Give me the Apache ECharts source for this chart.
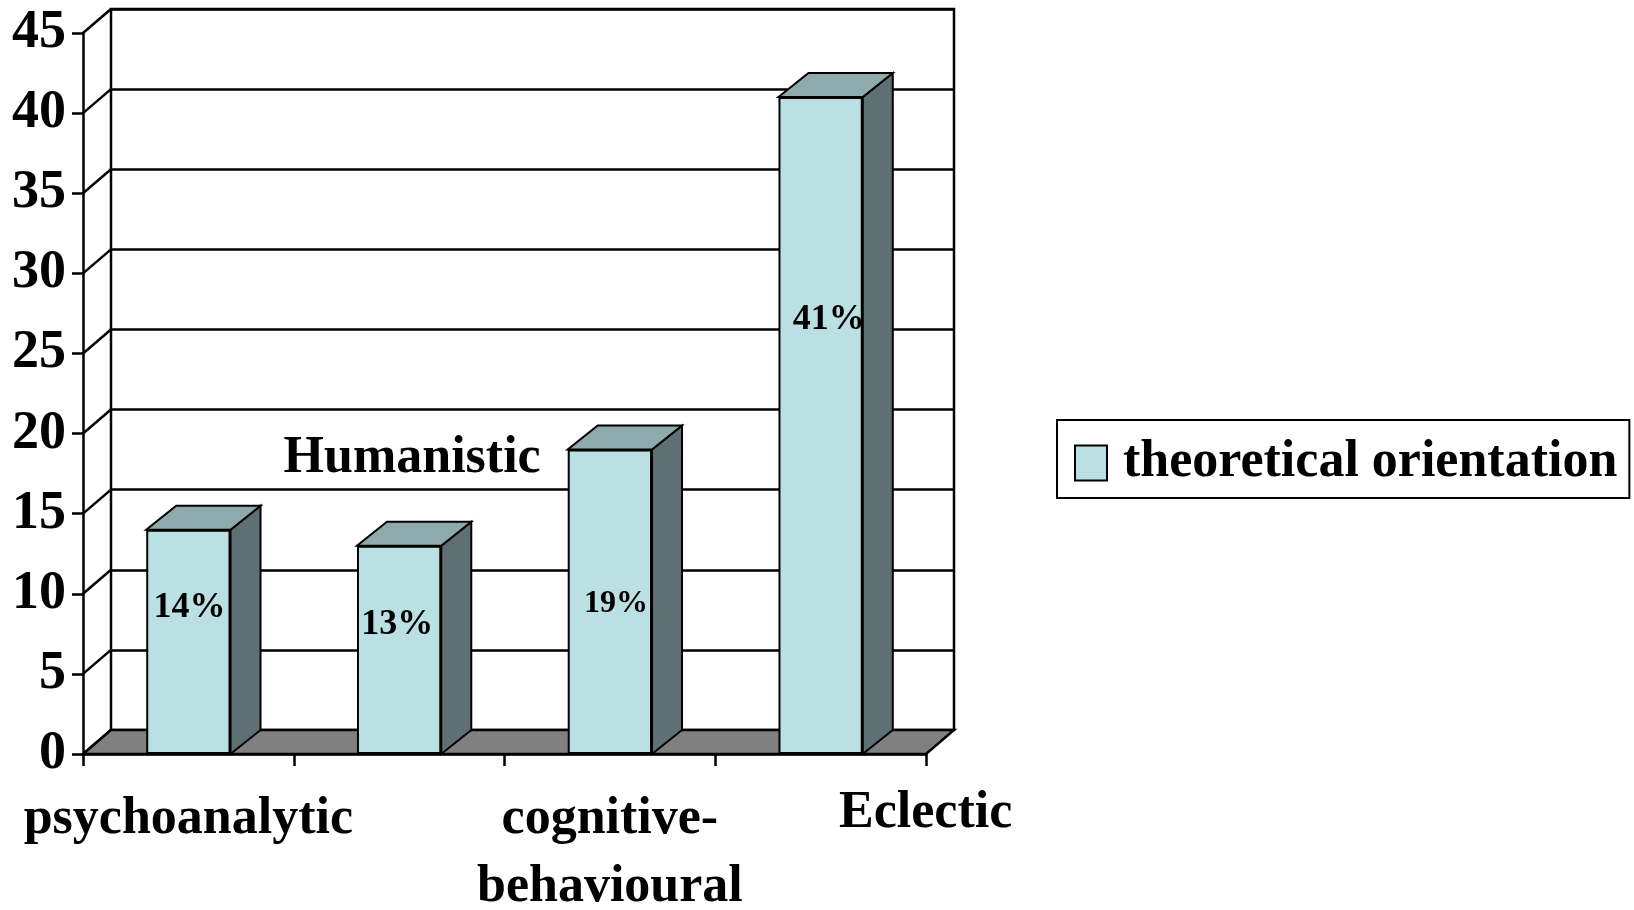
<!DOCTYPE html>
<html>
<head>
<meta charset="utf-8">
<title>Theoretical orientation</title>
<style>
  html, body { margin: 0; padding: 0; background: #ffffff; }
  #chart { width: 1634px; height: 910px; }
</style>
<script src="https://cdn.jsdelivr.net/npm/echarts@6/dist/echarts.min.js"></script>
</head>
<body>
<div id="chart"></div>
<script>
// ---- data ----
const categories = ['psychoanalytic', 'Humanistic', 'cognitive-\nbehavioural', 'Eclectic'];
const shares = [14, 13, 19, 41];
const yTickValues = [0, 5, 10, 15, 20, 25, 30, 35, 40, 45];
const seriesName = 'theoretical orientation';

// ---- look & layout ----
const FONT = "'Liberation Serif', 'Times New Roman', serif";
const FRONT = { left: 83, top: 33, width: 843, height: 721 };
const WALL = { dx: 28, dy: 24 };      // depth of the back wall / floor
const BAR_DEPTH = { dx: 30, dy: 24 }; // depth of each column
const BAR_FRACTION = 0.4;
const LW = 2.5;
const COLORS = { front: '#BBE0E3', top: '#8FAAAC', side: '#5E7073', floor: '#808080', ink: '#000000' };

// value label placement inside each column (offset from column top, px) and size
const labelNudge = [[1, 60], [-2, 61], [6, 138], [8, 205]];
const labelSize = [36, 36, 32, 36];

// category labels that are placed away from the axis: index -> offset from band centre / axis base
const movedLabels = { 1: { dx: 13, dy: -295 }, 3: { dx: 105, dy: 60 } };

const yMin = yTickValues[0];
const yMax = yTickValues[yTickValues.length - 1];
const yStep = yTickValues[1] - yTickValues[0];

const chart = echarts.init(document.getElementById('chart'), null, { renderer: 'canvas' });

const option = {
  animation: false,
  backgroundColor: '#ffffff',
  textStyle: { fontFamily: FONT },
  grid: [
    { left: FRONT.left, top: FRONT.top, width: FRONT.width, height: FRONT.height,
      containLabel: false, outerBoundsMode: 'none' },
    { left: FRONT.left + WALL.dx, top: FRONT.top - WALL.dy, width: FRONT.width, height: FRONT.height,
      containLabel: false, outerBoundsMode: 'none',
      show: true, borderColor: COLORS.ink, borderWidth: LW, backgroundColor: 'transparent' }
  ],
  xAxis: [
    {
      gridIndex: 0, type: 'category', data: categories, boundaryGap: true,
      axisLine: { show: true, lineStyle: { color: COLORS.ink, width: LW } },
      axisTick: { show: true, alignWithLabel: false, interval: 0, length: 12, lineStyle: { color: COLORS.ink, width: LW } },
      axisLabel: {
        show: true, interval: 0, margin: 32, color: COLORS.ink,
        fontFamily: FONT, fontWeight: 'bold', fontSize: 52, lineHeight: 68, align: 'center',
        formatter: (value, index) => (movedLabels[index] ? '' : value)
      },
      splitLine: { show: false }
    },
    {
      gridIndex: 1, type: 'category', data: categories, boundaryGap: true, show: false
    }
  ],
  yAxis: [
    {
      gridIndex: 0, type: 'value', min: yMin, max: yMax, interval: yStep,
      axisLine: { show: true, lineStyle: { color: COLORS.ink, width: LW } },
      axisTick: { show: true, length: 11, lineStyle: { color: COLORS.ink, width: LW } },
      axisLabel: { show: true, margin: 17, color: COLORS.ink, fontFamily: FONT, fontWeight: 'bold', fontSize: 54 },
      splitLine: { show: false }
    },
    {
      gridIndex: 1, type: 'value', min: yMin, max: yMax, interval: yStep,
      axisLine: { show: false }, axisTick: { show: false }, axisLabel: { show: false },
      splitLine: { show: true, lineStyle: { color: COLORS.ink, width: LW } }
    }
  ],
  legend: {
    show: true,
    left: 1057, top: 420,
    orient: 'horizontal',
    padding: [17, 12, 9, 17],
    borderColor: COLORS.ink, borderWidth: 2, borderRadius: 0,
    backgroundColor: '#ffffff',
    selectedMode: false,
    itemWidth: 32, itemHeight: 35,
    icon: 'rect',
    itemStyle: { color: COLORS.front, borderColor: COLORS.ink, borderWidth: 2 },
    textStyle: { color: COLORS.ink, fontFamily: FONT, fontWeight: 'bold', fontSize: 52, lineHeight: 52, padding: [0, 0, 0, 11] },
    data: [seriesName]
  },
  series: [
    // floor and side-wall rungs
    {
      type: 'custom', name: 'floor', xAxisIndex: 0, yAxisIndex: 0, z: 1, silent: true,
      data: [[0, 0]],
      renderItem: (params, api) => {
        const cs = params.coordSys;
        const x0 = cs.x, x1 = cs.x + cs.width;
        const base = api.coord([0, yMin])[1];
        const children = [];
        yTickValues.forEach(v => {
          const y = api.coord([0, v])[1];
          children.push({
            type: 'line',
            shape: { x1: x0, y1: y, x2: x0 + WALL.dx, y2: y - WALL.dy },
            style: { stroke: COLORS.ink, lineWidth: LW }
          });
        });
        children.push({
          type: 'polygon',
          shape: { points: [[x0, base], [x1, base], [x1 + WALL.dx, base - WALL.dy], [x0 + WALL.dx, base - WALL.dy]] },
          style: { fill: COLORS.floor, stroke: COLORS.ink, lineWidth: LW, lineJoin: 'miter' }
        });
        return { type: 'group', children };
      }
    },
    // top and side faces of each column
    {
      type: 'custom', name: 'column depth', xAxisIndex: 0, yAxisIndex: 0, z: 2, silent: true,
      data: shares.map((v, i) => [i, v]),
      renderItem: (params, api) => {
        const i = api.value(0), v = api.value(1);
        const p = api.coord([i, v]);
        const base = api.coord([i, yMin])[1];
        const bw = api.size([1, 0])[0] * BAR_FRACTION;
        const l = p[0] - bw / 2, r = p[0] + bw / 2, t = p[1];
        const dx = BAR_DEPTH.dx, dy = BAR_DEPTH.dy;
        return {
          type: 'group',
          children: [
            { type: 'polygon',
              shape: { points: [[r, t], [r + dx, t - dy], [r + dx, base - dy], [r, base]] },
              style: { fill: COLORS.side, stroke: COLORS.ink, lineWidth: 2, lineJoin: 'miter' } },
            { type: 'polygon',
              shape: { points: [[l, t], [r, t], [r + dx, t - dy], [l + dx, t - dy]] },
              style: { fill: COLORS.top, stroke: COLORS.ink, lineWidth: 2, lineJoin: 'miter' } }
          ]
        };
      }
    },
    // front faces with value labels
    {
      type: 'bar', name: seriesName, xAxisIndex: 0, yAxisIndex: 0, z: 3,
      barWidth: (BAR_FRACTION * 100) + '%',
      itemStyle: { color: COLORS.front, borderColor: COLORS.ink, borderWidth: 2 },
      label: {
        show: true, position: 'insideTop', distance: 0,
        color: COLORS.ink, fontFamily: FONT, fontWeight: 'bold',
        formatter: '{c}%'
      },
      emphasis: { disabled: true },
      data: shares.map((v, i) => ({
        value: v,
        label: { offset: labelNudge[i], fontSize: labelSize[i], lineHeight: labelSize[i] }
      }))
    },
    // category names set apart from the axis
    {
      type: 'custom', name: 'category notes', xAxisIndex: 0, yAxisIndex: 0, z: 4, silent: true,
      data: Object.keys(movedLabels).map(k => [Number(k), 0]),
      renderItem: (params, api) => {
        const i = api.value(0);
        const nudge = movedLabels[i];
        const p = api.coord([i, yMin]);
        return {
          type: 'text',
          x: p[0] + nudge.dx,
          y: p[1] + nudge.dy,
          style: {
            text: categories[i],
            fill: COLORS.ink,
            font: 'bold 52px ' + FONT,
            align: 'center',
            verticalAlign: 'middle'
          }
        };
      }
    }
  ]
};

chart.setOption(option);
</script>
</body>
</html>
